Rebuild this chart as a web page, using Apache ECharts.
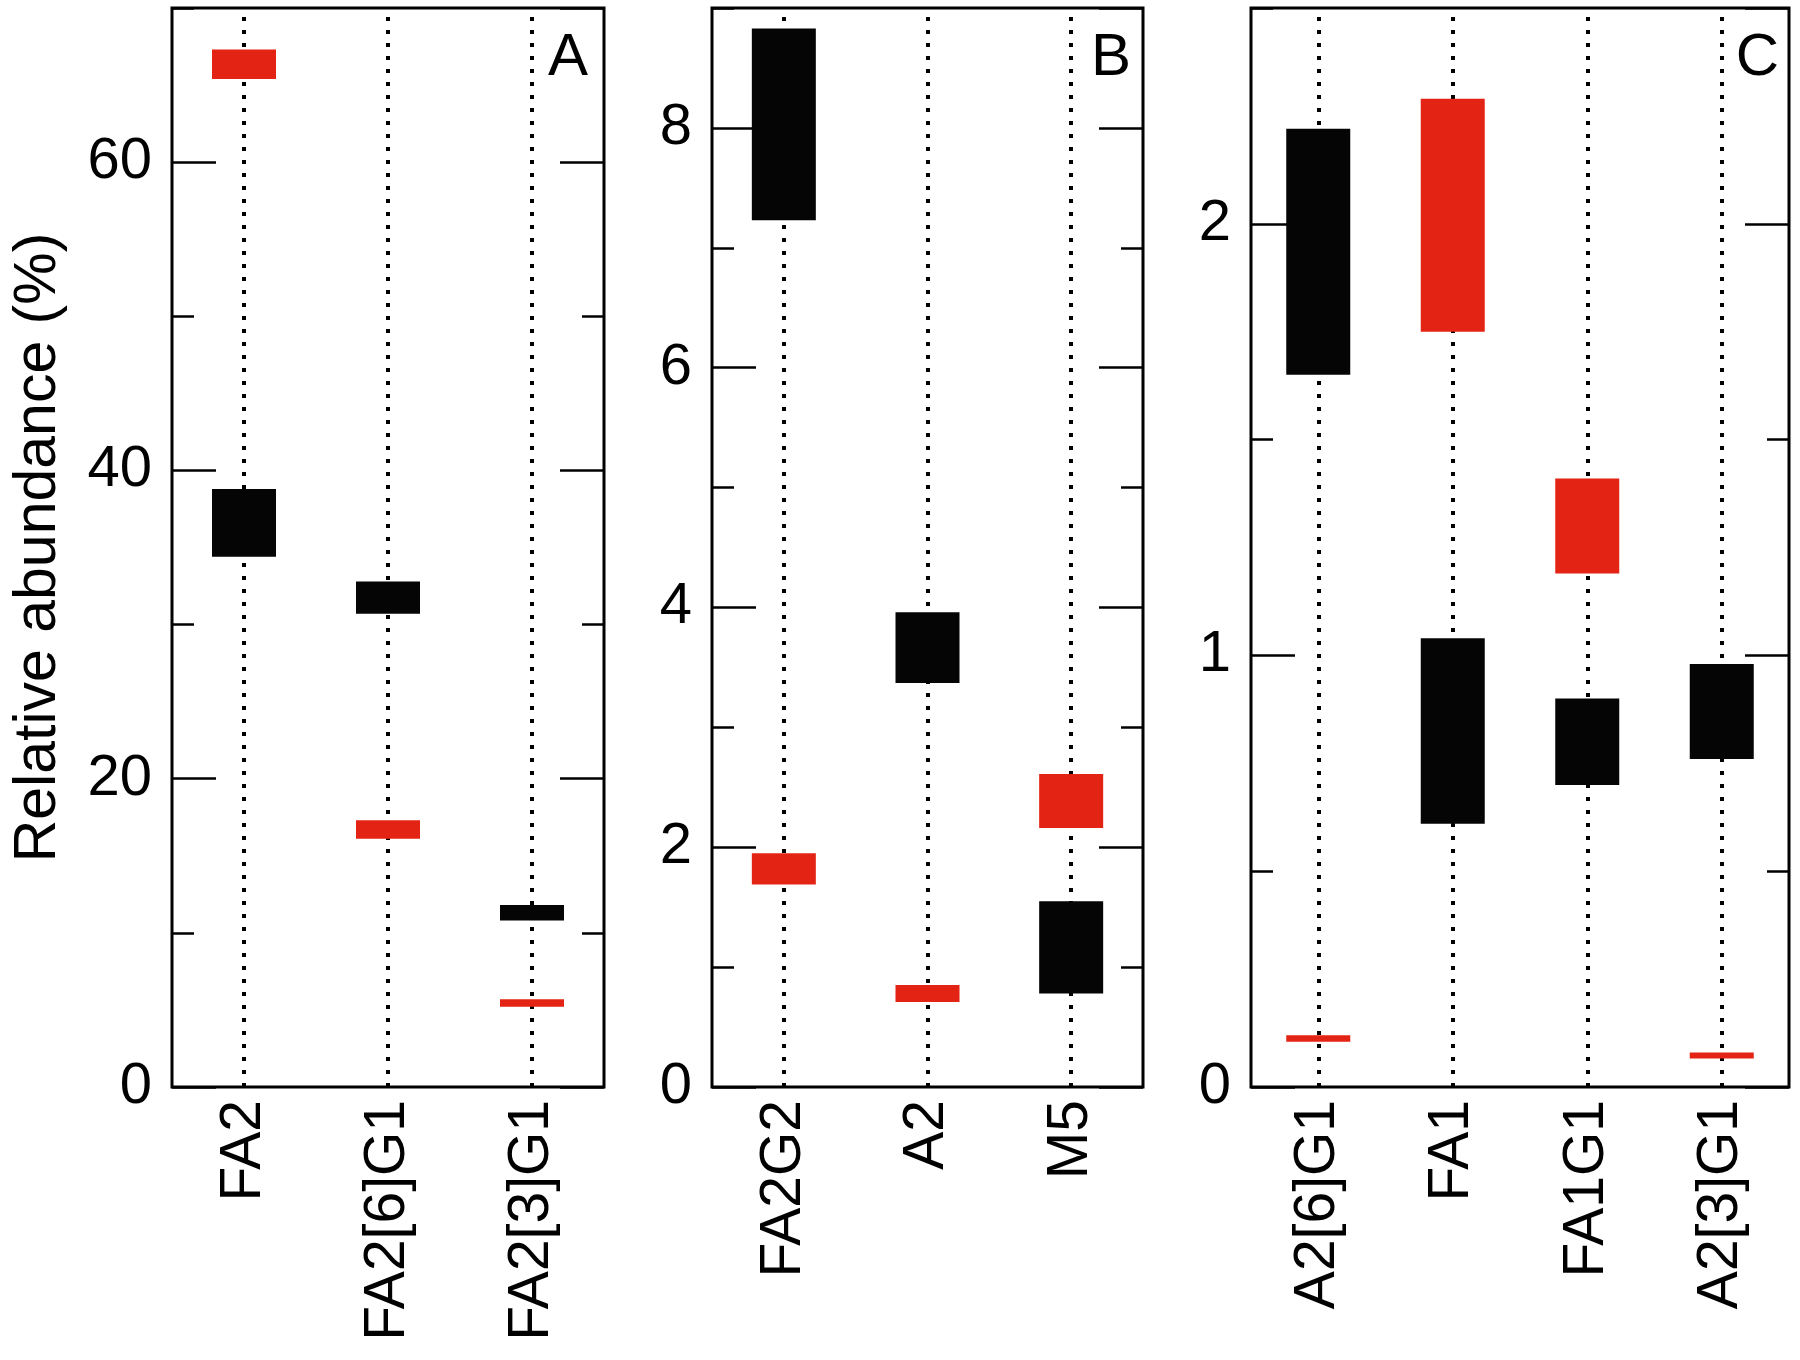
<!DOCTYPE html>
<html>
<head>
<meta charset="utf-8">
<script src="https://cdn.jsdelivr.net/npm/echarts/dist/echarts.min.js"></script>
<style>
html, body { margin: 0; padding: 0; background: #fff; }
#main { width: 1800px; height: 1360px; }
</style>
</head>
<body>
<div id="main"></div>
<script>
// panel A
var catsA = ['FA2', 'FA2[6]G1', 'FA2[3]G1'];
var blackA = [[34.4, 38.8], [30.7, 32.8], [10.8, 11.8]];
var redA = [[65.4, 67.3], [16.1, 17.3], [5.2, 5.7]];

// panel B
var catsB = ['FA2G2', 'A2', 'M5'];
var blackB = [[7.23, 8.83], [3.37, 3.96], [0.78, 1.55]];
var redB = [[1.69, 1.95], [0.71, 0.85], [2.16, 2.61]];

// panel C
var catsC = ['A2[6]G1', 'FA1', 'FA1G1', 'A2[3]G1'];
var blackC = [[1.65, 2.22], [0.61, 1.04], [0.70, 0.90], [0.76, 0.98]];
var redC = [[0.105, 0.12], [1.75, 2.29], [1.19, 1.41], [0.066, 0.08]];

var yMax = [70, 9, 2.5];
var yMajor = [20, 2, 1];
var yMinor = [10, 1, 0.5];
var panelNames = ['A', 'B', 'C'];

var FONT = '"Liberation Sans", Arial, Helvetica, sans-serif';
var RED = '#e32314';
var BLACK = '#050505';

var dom = document.getElementById('main');
var myChart = echarts.init(dom);

var panels = [
    {cats: catsA, black: blackA, red: redA, left: 172, width: 432, letterRight: 1212},
    {cats: catsB, black: blackB, red: redB, left: 712, width: 431, letterRight: 669},
    {cats: catsC, black: blackC, red: redC, left: 1251, width: 538, letterRight: 21}
];

function makeRender(color) {
    return function (params, api) {
        var lo = api.coord([api.value(0), api.value(1)]);
        var hi = api.coord([api.value(0), api.value(2)]);
        return {
            type: 'rect',
            shape: {x: lo[0] - 32, y: hi[1], width: 64, height: lo[1] - hi[1]},
            style: {fill: color}
        };
    };
}

function yAxisFor(i, pos, interval, tickLen, labels) {
    var ax = {
        type: 'value',
        gridIndex: i,
        position: pos,
        min: 0,
        max: yMax[i],
        interval: interval,
        axisLine: {show: false},
        axisTick: {show: true, inside: true, length: tickLen, lineStyle: {color: '#000', width: 2.5}},
        splitLine: {show: false},
        axisLabel: {
            show: labels,
            showMaxLabel: false,
            margin: 20,
            fontSize: 58,
            color: '#000',
            fontFamily: FONT
        }
    };
    return ax;
}

var grids = [], xAxes = [], yAxes = [], series = [], titles = [];

panels.forEach(function (p, i) {
    grids.push({
        left: p.left, top: 8, width: p.width, height: 1079,
        show: true, borderColor: '#000', borderWidth: 3,
        backgroundColor: 'transparent'
    });
    xAxes.push({
        type: 'category',
        gridIndex: i,
        data: p.cats,
        axisLine: {show: false},
        axisTick: {show: false},
        splitLine: {show: false},
        axisLabel: {rotate: 90, margin: 13, fontSize: 57, color: '#000', fontFamily: FONT}
    });
    yAxes.push(yAxisFor(i, 'left', yMajor[i], 44, true));
    yAxes.push(yAxisFor(i, 'left', yMinor[i], 22, false));
    yAxes.push(yAxisFor(i, 'right', yMajor[i], 44, false));
    yAxes.push(yAxisFor(i, 'right', yMinor[i], 22, false));

    // dotted guide line through each category
    series.push({
        type: 'line',
        xAxisIndex: i,
        yAxisIndex: i * 4,
        data: [],
        markLine: {
            silent: true,
            z: 1,
            symbol: ['none', 'none'],
            label: {show: false},
            lineStyle: {type: [4, 9], width: 4, color: '#000'},
            emphasis: {disabled: true},
            data: p.cats.map(function (c) { return {xAxis: c}; })
        }
    });
    series.push({
        type: 'custom',
        xAxisIndex: i,
        yAxisIndex: i * 4,
        z: 3,
        renderItem: makeRender(BLACK),
        encode: {x: 0, y: [1, 2]},
        data: p.black.map(function (d, j) { return [j, d[0], d[1]]; })
    });
    series.push({
        type: 'custom',
        xAxisIndex: i,
        yAxisIndex: i * 4,
        z: 3,
        renderItem: makeRender(RED),
        encode: {x: 0, y: [1, 2]},
        data: p.red.map(function (d, j) { return [j, d[0], d[1]]; })
    });

    titles.push({
        text: panelNames[i],
        right: p.letterRight,
        top: 28,
        padding: 0,
        textStyle: {fontSize: 60, fontWeight: 'normal', color: '#000', fontFamily: FONT}
    });
});

yAxes[0].name = 'Relative abundance (%)';
yAxes[0].nameLocation = 'middle';
yAxes[0].nameGap = 104;
yAxes[0].nameTextStyle = {fontSize: 59, color: '#000', fontFamily: FONT};

var option = {
    animation: false,
    title: titles,
    grid: grids,
    xAxis: xAxes,
    yAxis: yAxes,
    series: series
};
myChart.setOption(option);
</script>
</body>
</html>
